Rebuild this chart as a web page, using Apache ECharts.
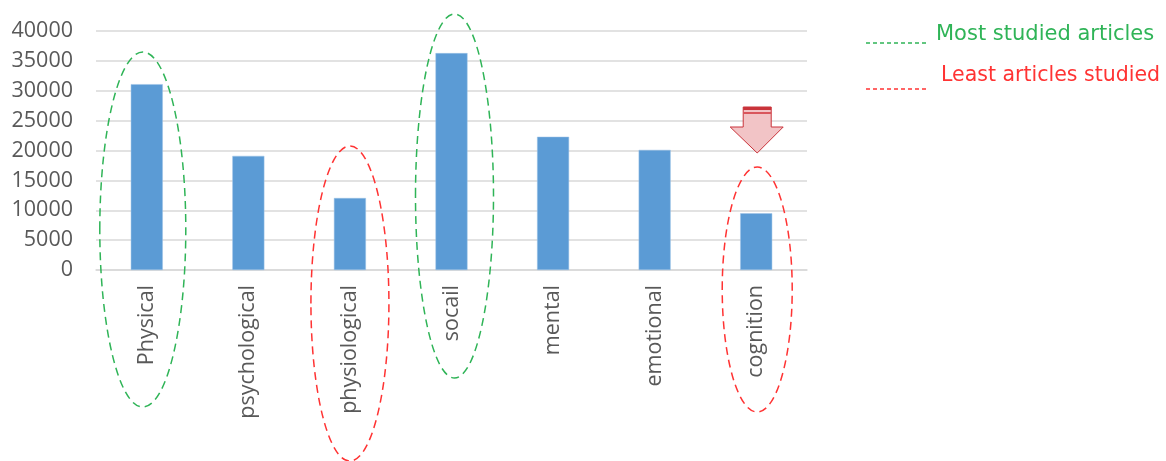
<!DOCTYPE html>
<html><head><meta charset="utf-8">
<script src="https://cdn.jsdelivr.net/npm/echarts@6/dist/echarts.min.js"></script>
<style>html,body{margin:0;padding:0;background:#fff}#c{width:1166px;height:461px}</style>
</head><body><div id="c"></div>
<script>
const categories = ['Physical','psychological','physiological','socail','mental','emotional','cognition'];
const values = [31100, 19100, 12050, 36300, 22300, 20100, 9500];
const yTicks = [0, 5000, 10000, 15000, 20000, 25000, 30000, 35000, 40000];
const highlights = [
  {cat:'Physical', kind:'most'},
  {cat:'physiological', kind:'least'},
  {cat:'socail', kind:'most'},
  {cat:'cognition', kind:'least'}
];
const GREEN = '#2fb457', RED = '#ff3333';
const chart = echarts.init(document.getElementById('c'));
chart.setOption({
  animation:false,
  grid:{left:96, right:359, top:31, bottom:191},
  xAxis:{type:'category', data:categories,
    axisLine:{lineStyle:{color:'#d9d9d9', width:1.5}}, axisTick:{show:false},
    axisLabel:{rotate:90, margin:15, color:'#595959', fontSize:21.5, fontFamily:'Open Sans'}},
  yAxis:{type:'value', min:yTicks[0], max:yTicks[yTicks.length-1], interval:5000,
    axisLine:{show:false}, axisTick:{show:false},
    splitLine:{lineStyle:{color:'#d9d9d9', width:1.5}},
    axisLabel:{color:'#595959', fontSize:21.5, fontFamily:'Open Sans', margin:23, formatter:v=>String(v)}},
  series:[{type:'bar', data:values, barWidth:32,
    itemStyle:{color:'#5b9bd5', borderColor:'#9dc3e6', borderWidth:0.5}}]
});
// annotations
const shapes = {
  Physical:{top:52, bottom:407, rx:43, dx:-4},
  physiological:{top:146, bottom:461, rx:39, dx:0},
  socail:{top:14, bottom:378, rx:39, dx:3},
  cognition:{top:167, bottom:412, rx:35, dx:1}
};
const g = [];
highlights.forEach(h=>{
  const px = chart.convertToPixel({xAxisIndex:0}, h.cat);
  const s = shapes[h.cat];
  g.push({type:'ellipse', shape:{cx:px+s.dx, cy:(s.top+s.bottom)/2, rx:s.rx, ry:(s.bottom-s.top)/2},
    style:{fill:'none', stroke:h.kind==='most'?GREEN:RED, lineWidth:1.5, lineDash:[8,5]}, z:10});
});
// arrow over cognition
const ax = chart.convertToPixel({xAxisIndex:0}, 'cognition');
g.push({type:'polygon', shape:{points:[[ax-13,107],[ax+15,107],[ax+15,127],[ax+27,127],[ax+1,153],[ax-26,127],[ax-13,127]]},
  style:{fill:'#f2c4c6', stroke:'#c9333a', lineWidth:1}, z:11});
g.push({type:'rect', shape:{x:ax-13, y:107, width:28, height:3}, style:{fill:'#c9333a'}, z:12});
g.push({type:'rect', shape:{x:ax-13, y:112, width:28, height:2}, style:{fill:'#d9565c'}, z:12});
// legend
g.push({type:'line', shape:{x1:866,y1:43,x2:928,y2:43}, style:{stroke:GREEN, lineWidth:1.3, lineDash:[4,3]}});
g.push({type:'text', x:936, y:35, style:{text:'Most studied articles', fill:GREEN, font:'21px "DejaVu Sans"', textVerticalAlign:'middle'}});
g.push({type:'line', shape:{x1:866,y1:89,x2:928,y2:89}, style:{stroke:RED, lineWidth:1.3, lineDash:[4,3]}});
g.push({type:'text', x:941, y:76, style:{text:'Least articles studied', fill:RED, font:'20.5px "DejaVu Sans"', textVerticalAlign:'middle'}});
chart.setOption({graphic:g});
</script></body></html>
